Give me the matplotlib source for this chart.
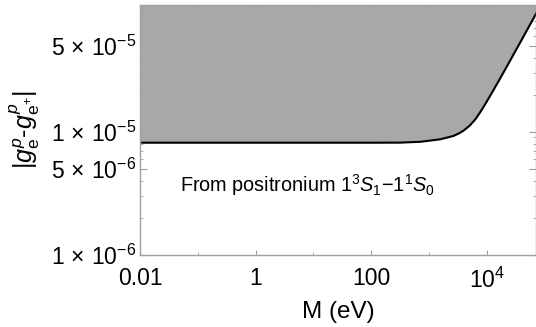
import matplotlib
matplotlib.use("Agg")
import matplotlib.pyplot as plt
from matplotlib.ticker import FixedLocator, NullFormatter

plt.rcParams['font.family'] = ['Liberation Sans', 'DejaVu Sans']
plt.rcParams['mathtext.fontset'] = 'custom'
plt.rcParams['mathtext.rm'] = 'Liberation Sans'
plt.rcParams['mathtext.it'] = 'Liberation Sans:italic'
plt.rcParams['mathtext.bf'] = 'Liberation Sans:bold'

# bound (M in eV, |g_e^p - g_e+^p|)
mass = [0.01, 100, 316, 708, 1550, 2630, 3310, 3980, 5010, 6310, 7940, 10000,
        12600, 17000, 24500, 38000, 69000, 89000]
coupling = [8.14e-6, 8.14e-6, 8.15e-6, 8.28e-6, 8.67e-6, 9.23e-6, 9.70e-6, 1.023e-5,
            1.117e-5, 1.259e-5, 1.476e-5, 1.766e-5, 2.123e-5, 2.716e-5, 3.69e-5,
            5.35e-5, 8.89e-5, 1.104e-4]

xticks = [0.01, 1, 100, 1e4]
xticklabels = ["0.01", "1", "100", r"$10^4$"]
xminor = [0.1, 10, 1000, 1e5]
yticks = [1e-6, 5e-6, 1e-5, 5e-5]
yticklabels = [r"$1\,\times\,10^{-6}$", r"$5\,\times\,10^{-6}$",
               r"$1\,\times\,10^{-5}$", r"$5\,\times\,10^{-5}$"]
yminor = [k * 10.0**e for e in (-6, -5) for k in range(2, 10) if k != 5] + [1e-4]

fig = plt.figure(figsize=(5.36, 3.27), dpi=100)
ax = fig.add_axes([0.2612, 0.2211, 0.7388, 0.7621])
ax.set_xscale('log')
ax.set_yscale('log')

ax.fill_between(mass, coupling, 1e-3, color='#a8a8a8', lw=0)
ax.plot(mass, coupling, color='black', lw=1.5)

ax.set_xlim(0.01, 10**4.85)
ax.set_ylim(1e-6, 1.062e-4)

ax.xaxis.set_major_locator(FixedLocator(xticks))
ax.set_xticklabels(xticklabels)
ax.xaxis.set_minor_locator(FixedLocator(xminor))
ax.xaxis.set_minor_formatter(NullFormatter())
ax.yaxis.set_major_locator(FixedLocator(yticks))
ax.set_yticklabels(yticklabels)
ax.yaxis.set_minor_locator(FixedLocator(yminor))
ax.yaxis.set_minor_formatter(NullFormatter())

for s in ax.spines.values():
    s.set_color('#a0a0a0')
    s.set_linewidth(1.0)
ax.tick_params(which='both', direction='in', color='#a0a0a0', top=True, right=True,
               labelsize=16.5, labelcolor='black')
ax.tick_params(axis='x', which='major', length=3.5, pad=9)
ax.tick_params(axis='x', which='minor', length=2)
ax.tick_params(axis='y', which='major', length=5, pad=3)
ax.tick_params(axis='y', which='minor', length=2.5)

ax.set_xlabel("M (eV)", fontsize=17.5, labelpad=6)
ax.set_ylabel(r"$|g_{\mathrm{e}}^{p}$-$g_{\mathrm{e}^{+}}^{p}|$", fontsize=18, labelpad=6)

ax.text(0.049, 3.69e-6, r"From positronium 1$^3$$S_1$$-$1$^1$$S_0$", fontsize=14.3,
        va='center', ha='left')

fig.savefig("out.png", dpi=100)
